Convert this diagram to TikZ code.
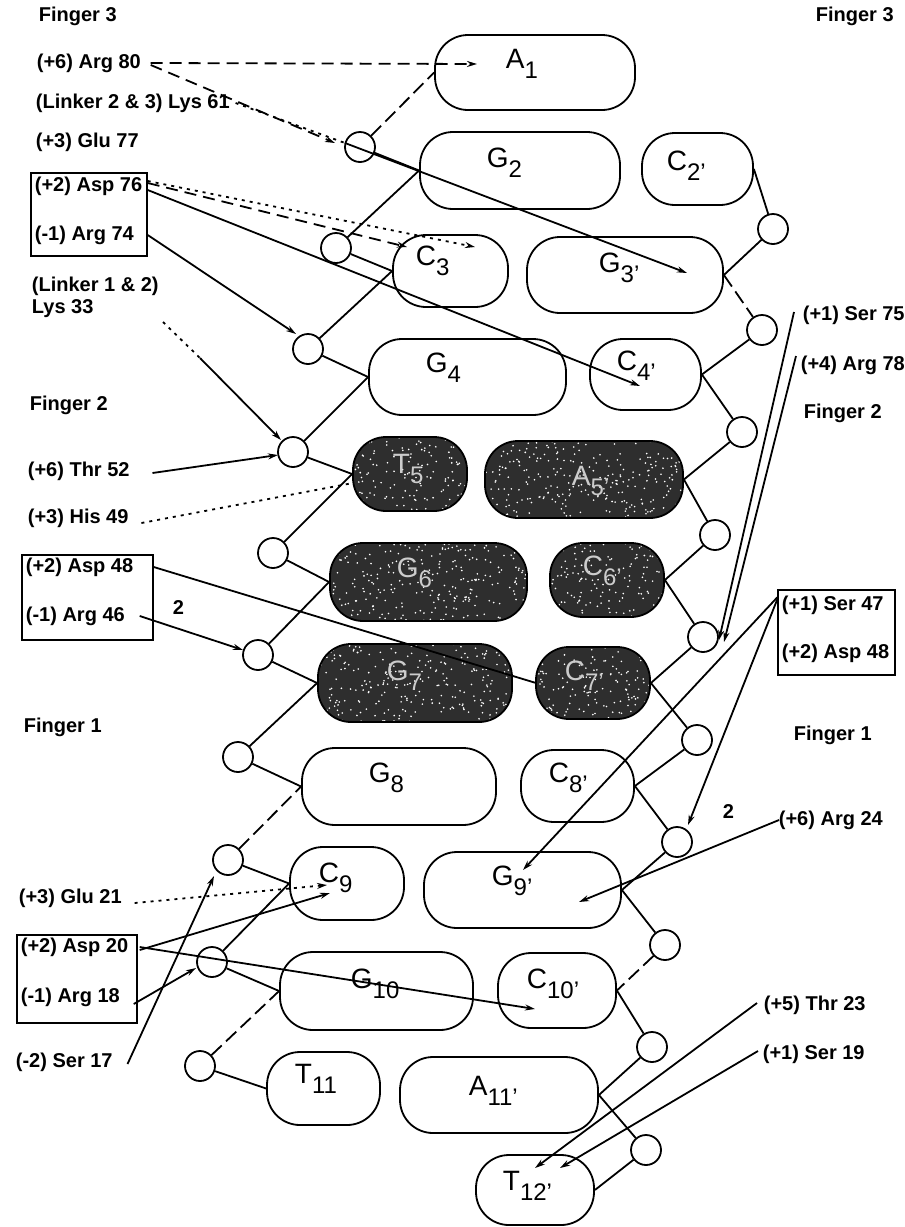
\documentclass[tikz,border=0pt]{standalone}
\usepackage{fontspec}
\setmainfont{Liberation Sans}
\usetikzlibrary{arrows.meta,calc}
\newcommand{\bl}[2]{#1\raisebox{-10pt}{\fontsize{24}{24}\selectfont #2}}
\begin{document}
\begin{tikzpicture}[x=1pt,y=-1pt,line width=1.8pt,
  box/.style={draw, rounded corners=33pt, inner sep=0pt, fill=white},
  dbox/.style={box, fill=black!82, path picture={
      \foreach \i in {1,...,260}
        \fill[white] ($(path picture bounding box.center)+(rand*100,rand*40)$) circle (0.9pt);}},
  ph/.style={draw, circle, minimum size=30pt, inner sep=0pt},
  lab/.style={font=\fontsize{20}{23}\selectfont\bfseries, inner sep=0pt, anchor=west},
  blab/.style={font=\fontsize{28}{30}\selectfont, inner sep=0pt, anchor=base west},
  wlab/.style={blab, text=white!80!black},
  frame/.style={draw, line width=1.4pt, inner sep=0pt},
  ia/.style={-{Stealth[length=10pt,width=6pt]}},
  dsh/.style={dash pattern=on 12pt off 7pt},
  dtt/.style={dash pattern=on 3pt off 5pt},
  bdash/.style={dash pattern=on 14pt off 6pt}]
\pgfmathsetseed{7}
\useasboundingbox (0,0) rectangle (905,1227);

% ---- base boxes ----
\node[box,minimum width=200pt,minimum height=75pt] (A1) at (535,72.5) {};
\node[box,minimum width=200pt,minimum height=77pt] (G2) at (520,170.5) {};
\node[box,minimum width=111pt,minimum height=72pt] (C2p) at (697.5,169) {};
\node[box,minimum width=115pt,minimum height=72pt] (C3) at (450.5,271) {};
\node[box,minimum width=196pt,minimum height=76pt] (G3p) at (625,275) {};
\node[box,minimum width=197pt,minimum height=76pt] (G4) at (467.5,377) {};
\node[box,minimum width=111pt,minimum height=71pt] (C4p) at (645.5,374.5) {};
\node[dbox,minimum width=114pt,minimum height=74pt] (T5) at (410,474) {};
\node[dbox,minimum width=198pt,minimum height=77pt] (A5p) at (584,479.5) {};
\node[dbox,minimum width=197pt,minimum height=78pt] (G6) at (428.5,582) {};
\node[dbox,minimum width=114pt,minimum height=74pt] (C6p) at (607,580) {};
\node[dbox,minimum width=194pt,minimum height=78pt] (G7) at (415,683) {};
\node[dbox,minimum width=114pt,minimum height=72pt] (C7p) at (593,683) {};
\node[box,minimum width=194pt,minimum height=77pt] (G8) at (399,786.5) {};
\node[box,minimum width=113pt,minimum height=72pt] (C8p) at (577.5,786) {};
\node[box,minimum width=114pt,minimum height=73pt] (C9) at (347,883.5) {};
\node[box,minimum width=197pt,minimum height=76pt] (G9p) at (522.5,890) {};
\node[box,minimum width=193pt,minimum height=78pt] (G10) at (376.5,991) {};
\node[box,minimum width=118pt,minimum height=75pt] (C10p) at (557,990.5) {};
\node[box,minimum width=113pt,minimum height=73pt] (T11) at (323.5,1088.5) {};
\node[box,minimum width=198pt,minimum height=76pt] (A11p) at (499,1095) {};
\node[box,minimum width=118pt,minimum height=70pt] (T12p) at (535,1190) {};

% ---- base labels ----
\node[blab] (tA1) at (505,68) {\bl{A}{1}};
\node[blab] (tG2) at (486,167) {\bl{G}{2}};
\node[blab] (tC2p) at (666,170) {\bl{C}{2'}};
\node[blab] (tC3) at (415,265) {\bl{C}{3}};
\node[blab] (tG3p) at (598,272) {\bl{G}{3'}};
\node[blab] (tG4) at (425,372) {\bl{G}{4}};
\node[blab] (tC4p) at (616,370) {\bl{C}{4'}};
\node[wlab] (tT5) at (392,473) {\bl{T}{5}};
\node[wlab] (tA5p) at (571,485) {\bl{A}{5'}};
\node[wlab] (tG6) at (396,577) {\bl{G}{6}};
\node[wlab] (tC6p) at (582,575) {\bl{C}{6'}};
\node[wlab] (tG7) at (386,680) {\bl{G}{7}};
\node[wlab] (tC7p) at (564,680) {\bl{C}{7'}};
\node[blab] (tG8) at (368,782) {\bl{G}{8}};
\node[blab] (tC8p) at (548,782) {\bl{C}{8'}};
\node[blab] (tC9) at (318,882) {\bl{C}{9}};
\node[blab] (tG9p) at (491,885) {\bl{G}{9'}};
\node[blab] (tG10) at (350,988) {\bl{G}{10}};
\node[blab] (tC10p) at (526,988) {\bl{C}{10'}};
\node[blab] (tT11) at (294,1083) {\bl{T}{11}};
\node[blab] (tA11p) at (468,1095) {\bl{A}{11'}};
\node[blab] (tT12p) at (502,1190) {\bl{T}{12'}};

% ---- phosphates ----
\foreach \n/\x/\y in {L1/360/147,L2/336/248,L3/308/349,L4/293/452,L5/273/553,
  L6/258/655,L7/238/757,L8/228/860,L9/212/962,L10/200/1066,
  R1/773/229,R2/762/330,R3/742/432,R4/715/535,R5/703/637,R6/697/740,
  R7/677/842,R8/665/945,R9/652/1047,R10/646/1150}
  \node[ph] (\n) at (\x,\y) {};

% ---- backbone ----
\draw[bdash] (L1) -- (A1.west);
\draw (L1) -- (G2.west);
\draw (L2) -- (G2.west);  \draw (L2) -- (C3.west);
\draw (L3) -- (C3.west);  \draw (L3) -- (G4.west);
\draw (L4) -- (G4.west);  \draw (L4) -- (T5.west);
\draw (L5) -- (T5.west);  \draw (L5) -- (G6.west);
\draw (L6) -- (G6.west);  \draw (L6) -- (G7.west);
\draw (L7) -- (G7.west);  \draw (L7) -- (G8.west);
\draw[bdash] (L8) -- (G8.west); \draw (L8) -- (C9.west);
\draw (L9) -- (C9.west);  \draw (L9) -- (G10.west);
\draw[bdash] (L10) -- (G10.west); \draw (L10) -- (T11.west);
\draw (C2p.east) -- (R1); \draw (R1) -- (G3p.east);
\draw[bdash] (G3p.east) -- (R2); \draw (R2) -- (C4p.east);
\draw (C4p.east) -- (R3); \draw (R3) -- (A5p.east);
\draw (A5p.east) -- (R4); \draw (R4) -- (C6p.east);
\draw (C6p.east) -- (R5); \draw (R5) -- (C7p.east);
\draw (C7p.east) -- (R6); \draw (R6) -- (C8p.east);
\draw (C8p.east) -- (R7); \draw (R7) -- (G9p.east);
\draw (G9p.east) -- (R8); \draw[bdash] (R8) -- (C10p.east);
\draw (C10p.east) -- (R9); \draw (R9) -- (A11p.east);
\draw (A11p.east) -- (R10); \draw (R10) -- (T12p.east);

% ---- side labels ----
\node[lab] (f3l) at (38,16) {Finger 3};
\node[lab] (f3r) at (815,16) {Finger 3};
\node[lab] (arg80) at (36,63) {(+6) Arg 80};
\node[lab] (lys61) at (35,103) {(Linker 2 \& 3) Lys 61};
\node[lab] (glu77) at (35,142) {(+3) Glu 77};
\node[lab] (asp76) at (34,186) {(+2) Asp 76};
\node[lab] (arg74) at (34,235) {(-1) Arg 74};
\node[frame,minimum width=116pt,minimum height=83pt] (box1) at (89,214.5) {};
\node[lab] (link12) at (31,286) {(Linker 1 \& 2)};
\node[lab] (lys33) at (31,309) {Lys 33};
\node[lab] (f2l) at (29,405) {Finger 2};
\node[lab] (thr52) at (27,471) {(+6) Thr 52};
\node[lab] (his49) at (27,518) {(+3) His 49};
\node[lab] (asp48) at (25,567) {(+2) Asp 48};
\node[lab] (arg46) at (25,616) {(-1) Arg 46};
\node[frame,minimum width=131pt,minimum height=85pt] (box2) at (87.5,597.5) {};
\node[lab] (two1) at (172,608) {2};
\node[lab] (f1l) at (23,727) {Finger 1};
\node[lab] (glu21) at (18,898) {(+3) Glu 21};
\node[lab] (asp20) at (20,947) {(+2) Asp 20};
\node[lab] (arg18) at (20,997) {(-1) Arg 18};
\node[frame,minimum width=120pt,minimum height=88pt] (box3) at (77,979) {};
\node[lab] (ser17) at (15,1062) {(-2) Ser 17};

\node[lab] (ser75) at (802,315) {(+1) Ser 75};
\node[lab] (arg78) at (800,365) {(+4) Arg 78};
\node[lab] (f2r) at (803,413) {Finger 2};
\node[lab] (ser47) at (781,605) {(+1) Ser 47};
\node[lab] (asp48r) at (781,653) {(+2) Asp 48};
\node[frame,minimum width=117pt,minimum height=85pt] (box4) at (836.5,632.5) {};
\node[lab] (f1r) at (793,735) {Finger 1};
\node[lab] (two2) at (722,812) {2};
\node[lab] (arg24) at (778,820) {(+6) Arg 24};
\node[lab] (thr23) at (763,1005) {(+5) Thr 23};
\node[lab] (ser19) at (762,1054) {(+1) Ser 19};

% ---- arrow targets ----
\coordinate (tipA1) at (477,64);
\coordinate (tipL1) at (335,143);
\coordinate (lysmid) at (345,143);
\coordinate (tipG3) at (687,273);
\coordinate (tipC3a) at (407,247);
\coordinate (tipC3b) at (475,247);
\coordinate (tipC4) at (640,386);
\coordinate (tipL3) at (296,334);
\coordinate (sLys33) at (163,322);
\coordinate (mLys33) at (200,358);
\coordinate (tipL4a) at (281,440);
\coordinate (tipL4b) at (278,455);
\coordinate (tipT5) at (353,483);
\coordinate (tipC7) at (536,683);
\coordinate (tipL6) at (243,650);
\coordinate (tipC9a) at (327,885);
\coordinate (tipC9b) at (330,893);
\coordinate (tipC10) at (535,1009);
\coordinate (tipL9) at (196,968);
\coordinate (tipL8) at (214,876);
\coordinate (tipR5a) at (719,640);
\coordinate (tipR5b) at (724,642);
\coordinate (tipG9a) at (523,870);
\coordinate (tipR7) at (688,825);
\coordinate (tipG9b) at (579,902);
\coordinate (tipT12a) at (535,1168);
\coordinate (tipT12b) at (560,1168);

% ---- contacts ----
\draw[ia,dsh] ([xshift=9pt]arg80.east) -- (tipA1);
\draw[ia,dsh] ([xshift=9pt,yshift=-2pt]arg80.east) -- (tipL1);
\draw[dtt] ([xshift=5pt]lys61.east) -- (lysmid);
\draw[ia] (lysmid) -- (tipG3);
\draw[ia,dsh] ([yshift=3pt]box1.east |- asp76.east) -- (tipC3a);
\draw[ia,dtt] ([yshift=5pt]box1.east |- asp76.east) -- (tipC3b);
\draw[ia] ([yshift=-4pt]box1.east |- asp76.east) -- (tipC4);
\draw[ia] (box1.east |- arg74.east) -- (tipL3);
\draw[dtt] (sLys33) -- (mLys33);
\draw[ia] (mLys33) -- (tipL4a);
\draw[ia] ([xshift=22pt,yshift=-2pt]thr52.east) -- (tipL4b);
\draw[dtt] ([xshift=12pt,yshift=-5pt]his49.east) -- (tipT5);
\draw (box2.east |- asp48.east) -- (tipC7);
\draw[ia] ([xshift=14pt]arg46.east) -- (tipL6);
\draw[ia,dtt] ([xshift=12pt,yshift=-5pt]glu21.east) -- (tipC9a);
\draw[ia] ([xshift=2pt,yshift=-3pt]box3.east |- asp20.east) -- (tipC9b);
\draw[ia] ([xshift=2pt]box3.east |- asp20.east) -- (tipC10);
\draw[ia] ([xshift=-4pt,yshift=-7pt]box3.east |- arg18.east) -- (tipL9);
\draw[ia] ([xshift=14pt,yshift=-2pt]ser17.east) -- (tipL8);
\draw[ia] ([xshift=-8pt,yshift=3pt]ser75.west) -- (tipR5a);
\draw[ia] ([xshift=-4pt,yshift=9pt]arg78.west) -- (tipR5b);
\draw[ia] ([yshift=-8pt]box4.north west) -- (tipG9a);
\draw[ia] ([yshift=-10pt]box4.north west) -- (tipR7);
\draw[ia] ([xshift=1pt]arg24.west) -- (tipG9b);
\draw[ia] ([xshift=-6pt,yshift=2pt]thr23.west) -- (tipT12a);
\draw[ia] ([xshift=-4pt,yshift=3pt]ser19.west) -- (tipT12b);
\end{tikzpicture}
\end{document}
